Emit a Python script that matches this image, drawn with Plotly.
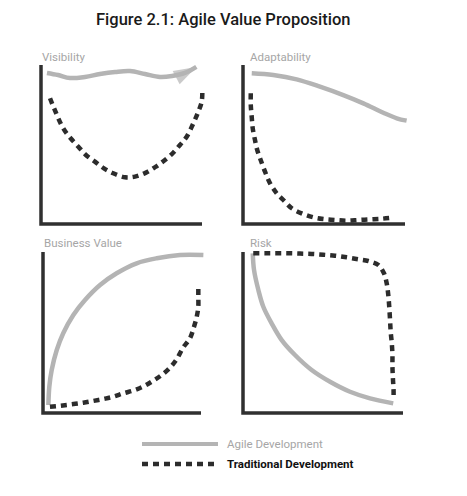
import plotly.graph_objects as go

W, H = 467, 496

# ---------------- data (units: 0..100 along each panel's axes) ----------------
vis_agile_x = [3.7, 10.6, 18.0, 27.3, 36.6, 46.0, 55.3, 64.6, 73.9, 81.4, 89.4, 96.5]
vis_agile_y = [95.0, 93.7, 91.8, 92.5, 94.3, 95.6, 96.2, 94.3, 92.5, 93.1, 95.0, 98.8]
vis_trad_x = [5.6, 8.1, 13.8, 18.4, 23.2, 27.9, 33.5, 39.1, 44.9, 52.2, 58.4, 65.2, 71.4, 77.0,
              81.8, 86.3, 90.5, 94.6, 97.7, 99.8, 100.2]
vis_trad_y = [79.1, 72.8, 60.2, 53.9, 48.6, 43.4, 39.2, 35.0, 31.9, 29.4, 29.8, 32.3, 36.1, 40.3,
              44.5, 49.7, 54.9, 63.3, 70.6, 76.9, 83.8]

ada_agile_x = [5.4, 18.7, 33.1, 47.5, 61.9, 74.3, 86.6, 94.9, 101.0]
ada_agile_y = [94.8, 93.7, 91.0, 86.4, 81.1, 75.9, 70.0, 66.5, 65.0]
ada_trad_x = [4.8, 4.8, 5.4, 6.0, 7.4, 8.8, 10.9, 13.6, 16.7, 20.8, 24.9, 30.1, 36.2, 43.4,
              49.6, 56.8, 64.0, 71.2, 78.4, 85.6, 92.4]
ada_trad_y = [82.2, 74.8, 67.1, 60.2, 52.8, 46.5, 40.3, 32.9, 25.6, 19.3, 15.1, 9.9, 6.7, 4.2,
              3.1, 2.5, 2.1, 2.5, 2.9, 3.3, 4.0]

bv_agile_x = [3.4, 4.0, 5.5, 8.7, 12.8, 19.2, 26.6, 36.1, 46.6, 59.3, 72.0, 86.7, 101.5]
bv_agile_y = [5.0, 16.3, 26.7, 39.1, 49.5, 60.9, 70.2, 79.5, 86.8, 93.0, 96.1, 98.1, 98.1]
bv_trad_x = [4.4, 10.8, 18.2, 25.5, 31.8, 38.2, 44.5, 50.8, 58.2, 64.6, 69.8, 75.1, 80.4, 84.6,
             88.8, 93.0, 95.6, 97.3, 98.3, 98.3, 98.3]
bv_trad_y = [3.9, 4.5, 5.4, 6.4, 7.5, 8.7, 10.1, 12.2, 14.3, 17.0, 20.1, 23.6, 28.2, 33.4,
             40.8, 46.4, 53.6, 59.8, 66.0, 72.2, 78.5]

risk_agile_x = [6.1, 6.9, 9.6, 12.7, 17.9, 24.2, 32.5, 42.9, 54.4, 66.9, 79.4, 93.9]
risk_agile_y = [99.2, 88.8, 76.4, 66.0, 55.7, 45.3, 36.0, 26.7, 19.4, 13.2, 9.1, 6.0]
risk_trad_x = [6.4, 13.8, 21.1, 28.3, 35.6, 42.9, 50.2, 57.5, 64.8, 72.1, 78.3, 84.6, 88.1,
               89.8, 90.8, 91.4, 91.9, 92.3, 93.0, 93.4, 93.4, 93.7, 94.1, 94.1]
risk_trad_y = [99.2, 99.2, 99.2, 99.2, 99.0, 98.8, 98.3, 97.7, 96.7, 95.5, 94.4, 91.9, 86.8,
               80.6, 73.3, 66.0, 57.8, 50.5, 43.3, 36.0, 28.8, 21.5, 14.3, 8.1]

panel_titles = ["Visibility", "Adaptability", "Business Value", "Risk"]
chart_title = "Figure 2.1: Agile Value Proposition"
legend_labels = ["Agile Development", "Traditional Development"]

# ---------------- styling / geometry ----------------
AGILE_COLOR = "#b4b4b4"
TRAD_COLOR = "#2c2c2c"
AXIS_COLOR = "#303030"
LABEL_COLOR = "#a6a6a6"
FONT = "Roboto, Liberation Sans, sans-serif"
DASH = "6px,5px"

# (y-axis x px, x-axis end px, x-axis y px, y-axis top px)
geom = [(41, 202, 224, 65), (243, 405, 224, 65), (43, 201, 413, 252), (243, 403, 413, 252)]
title_pos = [(40, 57), (248, 57), (42, 243), (248, 243)]
PAD = 14

panels = [
    (vis_agile_x, vis_agile_y, vis_trad_x, vis_trad_y),
    (ada_agile_x, ada_agile_y, ada_trad_x, ada_trad_y),
    (bv_agile_x, bv_agile_y, bv_trad_x, bv_trad_y),
    (risk_agile_x, risk_agile_y, risk_trad_x, risk_trad_y),
]

fig = go.Figure()
layout_axes = {}
shapes = []
annotations = []

for i, ((x0, x1, yb, yt), (ax, ay, tx, ty)) in enumerate(zip(geom, panels)):
    n = i + 1
    xs = (x1 - x0) / 100.0
    ys = (yb - yt) / 100.0
    xa = "xaxis" if n == 1 else f"xaxis{n}"
    ya = "yaxis" if n == 1 else f"yaxis{n}"
    xr = "x" if n == 1 else f"x{n}"
    yr = "y" if n == 1 else f"y{n}"
    layout_axes[xa] = dict(domain=[(x0 - PAD) / W, (x1 + PAD) / W],
                           range=[-PAD / xs, 100 + PAD / xs], visible=False,
                           anchor=yr, fixedrange=True)
    layout_axes[ya] = dict(domain=[1 - (yb + PAD) / H, 1 - (yt - PAD) / H],
                           range=[-PAD / ys, 100 + PAD / ys], visible=False,
                           anchor=xr, fixedrange=True)
    shapes.append(dict(type="path", xref=xr, yref=yr, path="M 0,100 L 0,0 L 100,0",
                       line=dict(color=AXIS_COLOR, width=3.5)))
    agile_kwargs = dict(x=ax, y=ay, mode="lines", xaxis=xr, yaxis=yr, showlegend=False,
                        line=dict(color=AGILE_COLOR, width=4.5, shape="spline"))
    if n == 1:
        agile_kwargs["mode"] = "lines+markers"
        agile_kwargs["marker"] = dict(size=[0] * (len(ax) - 1) + [24], symbol="arrow",
                                      angleref="previous", color=AGILE_COLOR,
                                      line=dict(width=0))
        agile_kwargs["cliponaxis"] = False
    fig.add_trace(go.Scatter(**agile_kwargs))
    fig.add_trace(go.Scatter(x=tx, y=ty, mode="lines", xaxis=xr, yaxis=yr, showlegend=False,
                             line=dict(color=TRAD_COLOR, width=4.5, dash=DASH, shape="spline")))
    tx_, ty_ = title_pos[i]
    annotations.append(dict(text=panel_titles[i], xref="paper", yref="paper",
                            x=tx_ / W, y=1 - ty_ / H, xanchor="left", yanchor="middle",
                            showarrow=False,
                            font=dict(family=FONT, size=11.5, color=LABEL_COLOR)))

annotations.append(dict(text=chart_title, xref="paper", yref="paper", x=223 / W, y=1 - 20 / H,
                        xanchor="center", yanchor="middle", showarrow=False,
                        font=dict(family=FONT, size=16.5, color="#1a1a1a", weight=500)))

leg = [(444, AGILE_COLOR, "solid", LABEL_COLOR, 400), (464, TRAD_COLOR, DASH, "#111111", 700)]
for (py, lc, dash, tc, wt), lab in zip(leg, legend_labels):
    shapes.append(dict(type="line", xref="paper", yref="paper", x0=142 / W, x1=218 / W,
                       y0=1 - py / H, y1=1 - py / H,
                       line=dict(color=lc, width=4 if dash == "solid" else 4.5, dash=dash)))
    annotations.append(dict(text=lab, xref="paper", yref="paper", x=225 / W, y=1 - py / H,
                            xanchor="left", yanchor="middle", showarrow=False,
                            font=dict(family=FONT, size=11.5, color=tc, weight=wt)))

fig.update_layout(width=W, height=H, margin=dict(l=0, r=0, t=0, b=0),
                  paper_bgcolor="white", plot_bgcolor="rgba(0,0,0,0)",
                  shapes=shapes, annotations=annotations, **layout_axes)

fig.write_html("out.html", config={"displayModeBar": False})
